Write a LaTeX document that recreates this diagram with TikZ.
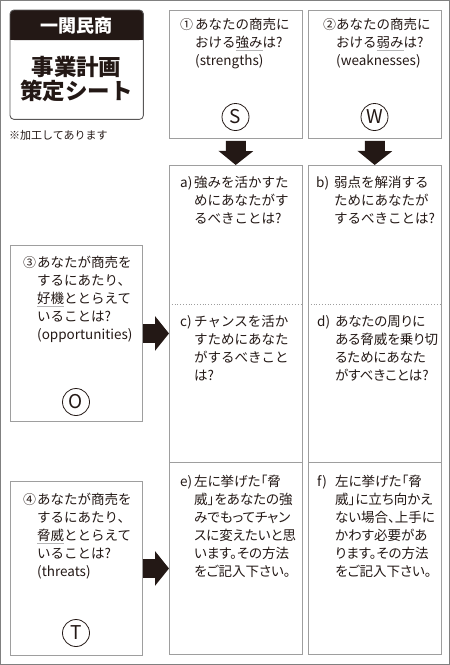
\documentclass[tikz,border=0pt]{standalone}
\usepackage{fontspec}
\setmainfont{Noto Sans CJK JP}
\newfontfamily\swotprop{Noto Sans CJK JP}[RawFeature=+palt]
\usetikzlibrary{arrows.meta}
\definecolor{swotInk}{HTML}{231815}
\definecolor{swotLine}{HTML}{9E9E9E}
\definecolor{swotFrame}{HTML}{808080}
\definecolor{swotRule}{HTML}{B5B5B6}
\definecolor{swotEdge}{HTML}{595757}
\newsavebox{\swotkwbox}
\newcommand{\keyword}[1]{\sbox{\swotkwbox}{#1}\rlap{\color{swotRule}\rule[-2.5pt]{\wd\swotkwbox}{0.8pt}}\usebox{\swotkwbox}}
\newcommand{\swotnum}{\fontsize{13}{18}\selectfont}
\newcommand{\swotlist}[3][14pt]{\begin{tabular}[t]{@{}p{#1}@{}l@{}}#2&#3\end{tabular}}
\tikzset{
  swot frame/.style={draw=swotFrame, line width=1pt},
  swot edge/.style={draw=swotLine, line width=0.9pt},
  swot box/.style={swot edge, inner sep=0pt},
  swot cell/.style={inner sep=0pt, minimum width=133pt},
  swot dots/.style={draw=swotLine, dotted, line width=0.8pt},
  swot text/.style={font=\fontsize{13.5}{18}\selectfont, text=swotInk, inner sep=0pt, anchor=north west},
  swot mark/.style={circle, draw=swotInk, line width=0.8pt, minimum size=27pt, inner sep=0pt, font=\fontsize{19}{19}\selectfont, text=swotInk},
  swot arrow/.style={draw=swotInk, line width=20pt, -{Triangle[length=14pt, width=34pt]}},
  swot head/.style={font=\fontsize{18}{18}\selectfont\bfseries, text=white, inner sep=0pt},
  swot big/.style={font=\fontsize{22.5}{22.5}\selectfont\bfseries, text=swotInk, inner sep=0pt},
  swot note/.style={font=\fontsize{11}{11}\selectfont, text=swotInk, inner sep=0pt},
}
\begin{document}
\begin{tikzpicture}[x=1pt, y=-1pt]
  \useasboundingbox (0,0) rectangle (450,665);
  \draw[swot frame] (0.5,0.5) rectangle (449.5,664.5);
  % Title block
  \node[inner sep=0pt, minimum width=133pt, minimum height=109pt, anchor=north west] (title) at (10,10) {};
  \fill[swotInk, rounded corners=4pt] (title.north west) rectangle ([yshift=-30pt]title.north east);
  \fill[swotInk] ([yshift=-20pt]title.north west) rectangle ([yshift=-30pt]title.north east);
  \draw[swotEdge, line width=0.9pt, rounded corners=4pt] (title.north west) rectangle (title.south east);
  \node[swot head] (head) at (76.5,25.5) {一関民商};
  \node[swot big] (title1) at (76.5,67) {事業計画};
  \node[swot big] (title2) at (76.5,91) {策定シート};
  \node[swot note, anchor=west] (note) at (9,135) {※加工してあります};
  % Strengths and weaknesses
  \node[swot box, minimum width=133pt, minimum height=128pt, anchor=north west] (S) at (169,10) {};
  \node[swot box, minimum width=133pt, minimum height=128pt, anchor=north west] (W) at (308,10) {};
  \node[swot text] (Stext) at (180,17) {\swotlist[15pt]{\swotnum ①}{あなたの商売に\\&おける\keyword{強み}は?\\&(strengths)}};
  \node[swot text] (Wtext) at (323,17) {\swotlist[13pt]{\swotnum ②}{あなたの商売に\\&おける\keyword{弱み}は?\\&(weaknesses)}};
  \node[swot mark] (Smark) at (235.5,117) {S};
  \node[swot mark] (Wmark) at (374.5,117) {W};
  % Answer columns
  \node[swot cell, minimum height=139pt, anchor=north west] (a) at (169,165) {};
  \node[swot cell, minimum height=158pt, anchor=north west] (c) at (169,304) {};
  \node[swot cell, minimum height=192pt, anchor=north west] (e) at (169,462) {};
  \node[swot cell, minimum height=139pt, anchor=north west] (b) at (308,165) {};
  \node[swot cell, minimum height=158pt, anchor=north west] (d) at (308,304) {};
  \node[swot cell, minimum height=192pt, anchor=north west] (f) at (308,462) {};
  \draw[swot edge] (a.north west) rectangle (e.south east);
  \draw[swot dots] (a.south west) -- (a.south east);
  \draw[swot edge] (c.south west) -- (c.south east);
  \draw[swot edge] (b.north west) rectangle (f.south east);
  \draw[swot dots] (b.south west) -- (b.south east);
  \draw[swot edge] (d.south west) -- (d.south east);
  \node[swot text] (atext) at (180,175) {\swotlist{a)}{強みを活かすた\\&めにあなたがす\\&るべきことは?}};
  \node[swot text] (btext) at (316,175) {\swotlist[18pt]{b)}{弱点を解消する\\&ためにあなたが\\&するべきことは?}};
  \node[swot text] (ctext) at (180,314) {\swotlist{c)}{チャンスを活か\\&すためにあなた\\&がするべきこと\\&は?}};
  \node[swot text] (dtext) at (317,314) {\swotprop\swotlist[18pt]{d)}{あなたの周りに\\&ある脅威を乗り切\\&るためにあなた\\&がすべきことは?}};
  \node[swot text] (etext) at (180,474) {\swotprop\swotlist{e)}{左に挙げた「脅\\&威」をあなたの強\\&みでもってチャン\\&スに変えたいと思\\&います。その方法\\&をご記入下さい。}};
  \node[swot text] (ftext) at (317,474) {\swotprop\swotlist[18pt]{f)}{左に挙げた「脅\\&威」に立ち向かえ\\&ない場合、上手に\\&かわす必要があ\\&ります。その方法\\&をご記入下さい。}};
  % Opportunities and threats
  \node[swot box, minimum width=132pt, minimum height=176pt, anchor=north west] (O) at (10,245) {};
  \node[swot box, minimum width=132pt, minimum height=174pt, anchor=north west] (T) at (10,481) {};
  \node[swot text] (Otext) at (23,255) {\swotlist[14pt]{\swotnum ③}{あなたが商売を\\&するにあたり、\\&\keyword{好機}ととらえて\\&いることは?\\&(opportunities)}};
  \node[swot text] (Ttext) at (23,492) {\swotlist[14pt]{\swotnum ④}{あなたが商売を\\&するにあたり、\\&\keyword{脅威}ととらえて\\&いることは?\\&(threats)}};
  \node[swot mark] (Omark) at (76,402) {O};
  \node[swot mark] (Tmark) at (76,633) {T};
  % Arrows
  \draw[swot arrow, shorten <=2pt] (S.south) -- (a.north);
  \draw[swot arrow, shorten <=2pt] (W.south) -- (b.north);
  \draw[swot arrow, line width=19pt] (O.east) -- (O.east -| c.west);
  \draw[swot arrow, line width=19pt] (T.east) -- (T.east -| e.west);
\end{tikzpicture}
\end{document}
